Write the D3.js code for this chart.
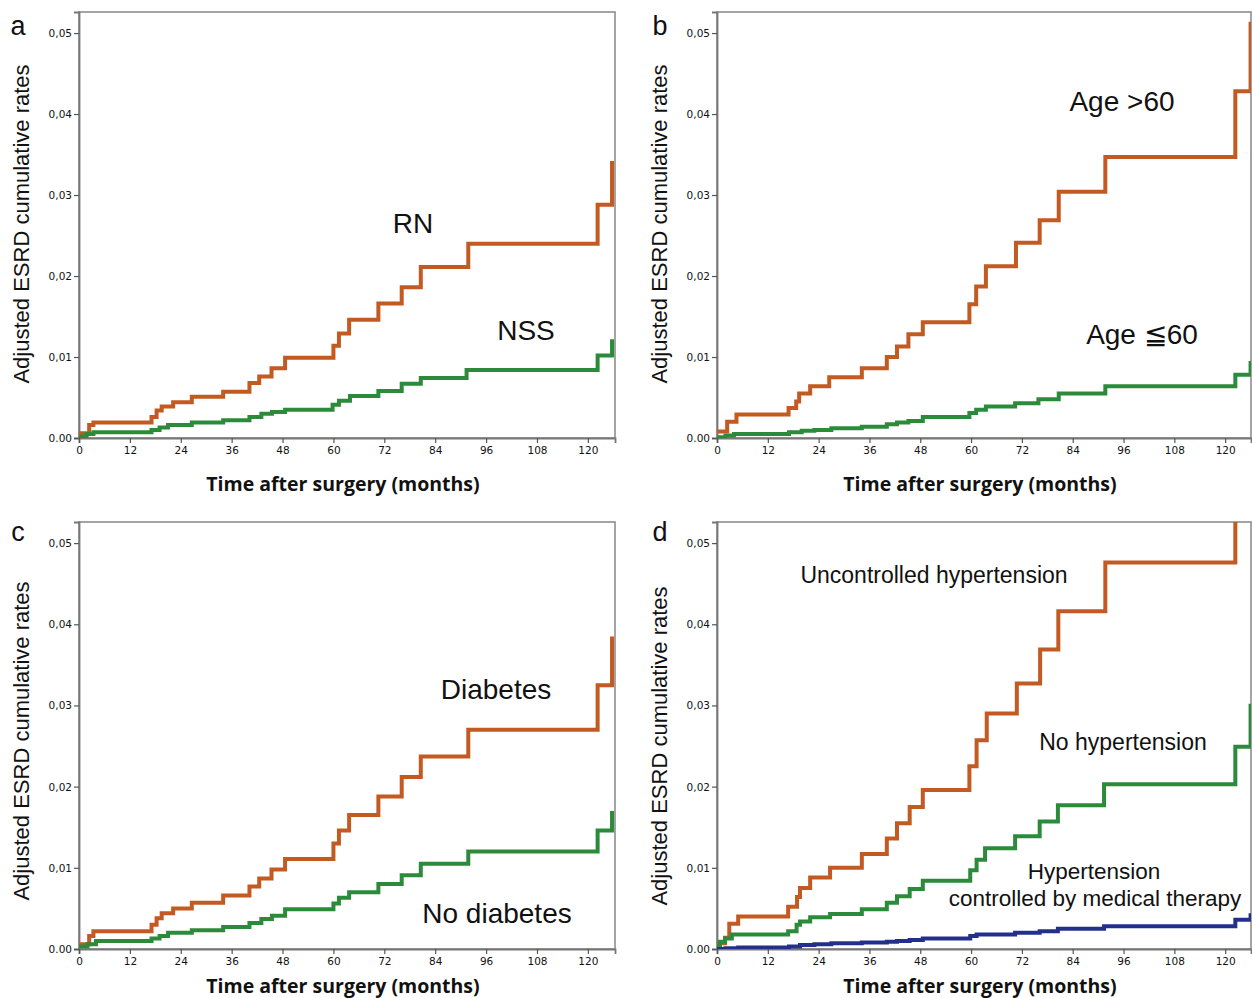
<!DOCTYPE html>
<html><head><meta charset="utf-8">
<script src="https://cdn.jsdelivr.net/npm/d3@7/dist/d3.min.js"></script>
<style>
body{margin:0;background:#fff;}
svg{display:block;}
</style></head>
<body>
<svg id="chart" width="1252" height="998"></svg>
<script>
// ---------- DATA ----------
const xTicks = [0,12,24,36,48,60,72,84,96,108,120];
const yTicks = [0,0.01,0.02,0.03,0.04,0.05];
const yTickLabels = ["0.00","0,01","0,02","0,03","0,04","0,05"];
const yTitle = "Adjusted ESRD cumulative rates";
const xTitle = "Time after surgery (months)";

// panel a: RN vs NSS  [month, cumulative rate]
const aRN = [[0,0.0006],[2.4,0.0016],[3.4,0.0019],[17.1,0.0026],[18.3,0.0034],[19.5,0.0039],[22.2,0.0044],[26.6,0.0051],[34.0,0.0057],[40.2,0.0068],[42.5,0.0076],[45.4,0.0086],[48.6,0.0099],[60.0,0.0114],[61.3,0.0129],[63.7,0.0146],[70.6,0.0166],[76.1,0.0186],[80.6,0.0211],[91.8,0.0240],[122.3,0.0288],[125.7,0.0342]];
const aNSS = [[0,0.0002],[1.8,0.0005],[3.4,0.0007],[17.1,0.0010],[19.0,0.0013],[21.0,0.0016],[26.6,0.0019],[34.0,0.0022],[40.2,0.0026],[43.0,0.0030],[45.5,0.0032],[48.6,0.0035],[59.8,0.0041],[61.3,0.0046],[63.9,0.0052],[70.6,0.0058],[76.1,0.0067],[80.6,0.0074],[91.4,0.0084],[122.3,0.0102],[125.7,0.0122]];

// panel b: Age >60 vs Age <=60
const bOld = [[0,0.0008],[2.4,0.0020],[4.6,0.0029],[16.9,0.0037],[18.7,0.0045],[19.4,0.0055],[22.0,0.0064],[26.5,0.0075],[34.2,0.0086],[40.1,0.0100],[42.5,0.0113],[45.2,0.0128],[48.6,0.0143],[59.6,0.0165],[61.2,0.0187],[63.5,0.0212],[70.6,0.0241],[76.2,0.0269],[80.7,0.0304],[91.7,0.0347],[122.4,0.0428],[126.0,0.0514]];
const bYoung = [[0,0.0001],[2.0,0.0003],[4.0,0.0005],[17.0,0.0007],[20.0,0.0009],[23.0,0.0010],[27.0,0.0012],[34.2,0.0014],[40.1,0.0017],[42.5,0.0019],[45.2,0.0021],[48.6,0.0026],[59.6,0.0031],[61.2,0.0035],[63.5,0.0039],[70.4,0.0043],[75.9,0.0048],[80.7,0.0055],[91.7,0.0064],[122.4,0.0078],[126.0,0.0095]];

// panel c: Diabetes vs No diabetes
const cDiab = [[0,0.0006],[2.4,0.0016],[3.4,0.0022],[17.1,0.0030],[18.3,0.0038],[19.5,0.0044],[22.2,0.0050],[26.6,0.0057],[34.0,0.0066],[40.2,0.0077],[42.5,0.0087],[45.4,0.0098],[48.6,0.0111],[60.0,0.0130],[61.3,0.0146],[63.7,0.0165],[70.6,0.0188],[76.1,0.0212],[80.6,0.0237],[91.8,0.0270],[122.3,0.0325],[125.7,0.0385]];
const cNoDiab = [[0,0.0003],[2.0,0.0006],[4.0,0.0010],[17.1,0.0013],[19.0,0.0016],[21.0,0.0020],[26.6,0.0023],[34.0,0.0027],[40.2,0.0032],[43.0,0.0037],[45.5,0.0041],[48.6,0.0049],[60.0,0.0056],[61.3,0.0063],[63.7,0.0070],[70.6,0.0080],[76.1,0.0091],[80.6,0.0105],[91.8,0.0120],[122.3,0.0146],[125.7,0.0170]];

// panel d: hypertension groups
const dUncontrolled = [[0,0.0007],[1.9,0.0014],[2.9,0.0031],[5.0,0.0040],[16.8,0.0052],[18.9,0.0064],[19.6,0.0075],[22.0,0.0088],[26.7,0.0100],[34.2,0.0117],[40.1,0.0136],[42.5,0.0155],[45.5,0.0175],[48.6,0.0196],[59.6,0.0225],[61.3,0.0257],[63.7,0.0290],[70.8,0.0327],[76.3,0.0369],[80.6,0.0416],[91.7,0.0476],[122.4,0.0600]];
const dNoHT = [[0,0.0003],[0.7,0.0009],[1.9,0.0013],[3.5,0.0018],[16.8,0.0022],[18.8,0.0030],[19.6,0.0034],[22.0,0.0039],[26.7,0.0043],[34.2,0.0049],[40.1,0.0057],[42.5,0.0065],[45.5,0.0074],[48.6,0.0084],[59.8,0.0097],[61.3,0.0110],[63.3,0.0124],[70.4,0.0139],[76.2,0.0157],[80.5,0.0177],[91.4,0.0203],[122.4,0.0249],[126.0,0.0302]];
const dControlled = [[0,0.0000],[2.0,0.0001],[5.0,0.0002],[17.0,0.0003],[19.6,0.0005],[23.0,0.0006],[27.0,0.0007],[34.2,0.0008],[40.1,0.0009],[42.5,0.0010],[45.5,0.0011],[48.6,0.0013],[59.8,0.0016],[61.3,0.0018],[70.4,0.0020],[76.2,0.0022],[80.5,0.0025],[91.4,0.0028],[122.4,0.0036],[126.0,0.0044]];

// ---------- STYLE ----------
const ORANGE = "#c25a22", GREEN = "#2b8b3b", BLUE = "#22308c";

const panels = [
  {letter:"a", x0:79,  x1:615,  yb:438, yt:12,  xMax:126.4, lx:18,  ly:35, tY:491, yMid:224,
   series:[{d:aRN,c:ORANGE},{d:aNSS,c:GREEN}],
   texts:[{t:"RN",x:413,y:233,s:28},{t:"NSS",x:526,y:340,s:28}]},
  {letter:"b", x0:717, x1:1251, yb:438, yt:12,  xMax:126.1, lx:660, ly:35, tY:491, yMid:224,
   series:[{d:bOld,c:ORANGE},{d:bYoung,c:GREEN}],
   texts:[{t:"Age >60",x:1122,y:111,s:28},{t:"Age \u226660",x:1142,y:344,s:28}]},
  {letter:"c", x0:79,  x1:615,  yb:949, yt:522, xMax:126.4, lx:18,  ly:541, tY:993, yMid:741,
   series:[{d:cDiab,c:ORANGE},{d:cNoDiab,c:GREEN}],
   texts:[{t:"Diabetes",x:496,y:699,s:28},{t:"No diabetes",x:497,y:923,s:28}]},
  {letter:"d", x0:717, x1:1251, yb:949, yt:522, xMax:126.1, lx:660, ly:541, tY:993, yMid:746,
   series:[{d:dUncontrolled,c:ORANGE},{d:dNoHT,c:GREEN},{d:dControlled,c:BLUE}],
   texts:[{t:"Uncontrolled hypertension",x:934,y:583,s:23},{t:"No hypertension",x:1123,y:750,s:23},
          {t:"Hypertension",x:1094,y:879,s:22.5},{t:"controlled by medical therapy",x:1095,y:906,s:22.5}]}
];

const svg = d3.select("#chart");

panels.forEach((p,pi) => {
  const x = d3.scaleLinear().domain([0,p.xMax]).range([p.x0,p.x1]);
  const y = d3.scaleLinear().domain([0,0.0526]).range([p.yb,p.yt]);
  const g = svg.append("g");

  const cid = "clip"+pi;
  svg.append("clipPath").attr("id",cid).append("rect")
    .attr("x",p.x0).attr("y",p.yt).attr("width",p.x1-p.x0).attr("height",p.yb-p.yt);

  g.append("rect").attr("x",p.x0).attr("y",p.yt).attr("width",p.x1-p.x0).attr("height",p.yb-p.yt)
    .attr("fill","none").attr("stroke","#8e8e8e").attr("stroke-width",1.6);

  const ya = g.append("g").attr("transform",`translate(${p.x0},0)`)
    .call(d3.axisLeft(y).tickValues(yTicks).tickFormat((d,i)=>yTickLabels[i]).tickSize(5).tickPadding(2));
  const xa = g.append("g").attr("transform",`translate(0,${p.yb})`)
    .call(d3.axisBottom(x).tickValues(xTicks).tickSize(5).tickPadding(4));
  [ya,xa].forEach(a=>{
    a.select(".domain").attr("stroke","#777").attr("stroke-width",1.8);
    a.selectAll(".tick line").attr("stroke","#555").attr("stroke-width",1.2);
    a.selectAll(".tick text").attr("fill","#111").style("font-family","DejaVu Sans, sans-serif").style("font-size","10.5px");
  });

  const line = d3.line().x(d=>x(d[0])).y(d=>y(d[1])).curve(d3.curveStepAfter);
  p.series.forEach(s=>{
    g.append("path").attr("d",line(s.d)).attr("fill","none").attr("stroke",s.c)
      .attr("stroke-width",4).attr("stroke-linejoin","miter").attr("stroke-linecap","butt")
      .attr("clip-path",`url(#${cid})`);
  });

  p.texts.forEach(t=>{
    g.append("text").attr("x",t.x).attr("y",t.y).attr("text-anchor","middle")
      .style("font-family","Liberation Sans, Arial, sans-serif").style("font-size",t.s+"px")
      .attr("fill","#111").text(t.t);
  });

  g.append("text").attr("x",p.lx).attr("y",p.ly).attr("text-anchor","middle")
    .style("font-family","Liberation Sans, Arial, sans-serif").style("font-size","27px")
    .attr("fill","#111").text(p.letter);

  g.append("text").attr("transform",`translate(${p.x0-50},${p.yMid}) rotate(-90)`)
    .attr("text-anchor","middle")
    .style("font-family","Liberation Sans, Arial, sans-serif").style("font-size","22px")
    .attr("fill","#111").text(yTitle);

  g.append("text").attr("x",(p.x0+p.x1)/2 - 4).attr("y",p.tY).attr("text-anchor","middle")
    .style("font-family","Open Sans, DejaVu Sans, sans-serif").style("font-weight","700").style("font-size","19.5px")
    .attr("fill","#111").text(xTitle);
});
</script>
</body></html>
